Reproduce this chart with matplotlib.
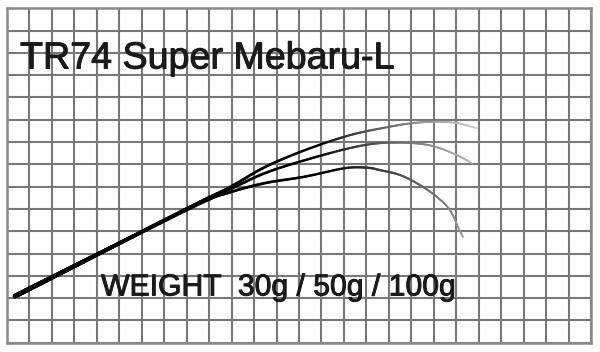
import numpy as np
import matplotlib
matplotlib.use("Agg")
import matplotlib.pyplot as plt
from matplotlib.collections import LineCollection
import matplotlib.patheffects as pe

# Grid size (cells)
n_cols = 26
n_rows = 15

title = "TR74 Super Mebaru-L"
weight_label = "WEIGHT  30g / 50g / 100g"

# Rod bend curves (grid-cell units), 30g / 50g / 100g
x_30g = [0.36, 4.14, 8.59, 9.93, 11.49, 13.27, 15.27, 17.05, 18.08, 19.06, 20.04, 20.93]
y_30g = [2.09, 4.02, 6.31, 6.98, 7.88, 8.64, 9.31, 9.69, 9.85, 9.91, 9.85, 9.62]

x_50g = [0.36, 4.14, 8.59, 9.93, 11.49, 13.27, 15.27, 16.61, 18.08, 19.06, 20.04, 20.70]
y_50g = [2.09, 4.02, 6.31, 6.89, 7.61, 8.19, 8.73, 8.95, 8.95, 8.79, 8.41, 8.05]

x_100g = [0.36, 4.14, 8.59, 9.93, 11.49, 13.27, 15.05, 16.03, 16.61, 17.50, 18.39, 19.15, 19.72, 20.08, 20.30]
y_100g = [2.09, 4.02, 6.24, 6.75, 7.16, 7.45, 7.83, 7.85, 7.74, 7.52, 7.07, 6.53, 5.95, 5.19, 4.74]

curves = [(x_30g, y_30g, 0.80), (x_50g, y_50g, 0.72), (x_100g, y_100g, 0.62)]


def smooth(xs, ys, n=16):
    """Catmull-Rom rendering through the given points."""
    P = np.column_stack([xs, ys]).astype(float)
    P = np.vstack([P[0] * 2 - P[1], P, P[-1] * 2 - P[-2]])
    out = []
    for i in range(1, len(P) - 2):
        p0, p1, p2, p3 = P[i - 1], P[i], P[i + 1], P[i + 2]
        t = np.linspace(0, 1, n, endpoint=False)[:, None]
        seg = 0.5 * ((2 * p1) + (-p0 + p2) * t + (2 * p0 - 5 * p1 + 4 * p2 - p3) * t ** 2
                     + (-p0 + 3 * p1 - 3 * p2 + p3) * t ** 3)
        out.append(seg)
    out.append(P[-2][None, :])
    return np.vstack(out)


fig = plt.figure(figsize=(6.0, 3.52), dpi=100)
W, H = 600, 352
left, right = 7 / W, 591 / W
bottom, top = (H - 342.7) / H, (H - 8.3) / H
ax = fig.add_axes([left, bottom, right - left, top - bottom])
ax.set_xlim(0, n_cols)
ax.set_ylim(0, n_rows)
ax.set_xticks(np.arange(n_cols + 1))
ax.set_yticks(np.arange(n_rows + 1))
ax.tick_params(length=0, labelbottom=False, labelleft=False)
ax.grid(True, color="#787878", linewidth=1.5)
ax.set_axisbelow(True)
for s in ax.spines.values():
    s.set_color("#8a8a8a")
    s.set_linewidth(1.8)

for xs, ys, tipgray in curves:
    pts2 = smooth(xs, ys)
    px, py = pts2[:, 0], pts2[:, 1]
    pts = pts2.reshape(-1, 1, 2)
    segs = np.concatenate([pts[:-1], pts[1:]], axis=1)
    d = np.concatenate([[0], np.cumsum(np.hypot(np.diff(px), np.diff(py)))])
    f = (d[:-1] + d[1:]) / 2 / d[-1]
    widths = np.where(f < 0.45, 3.4 - 3.0 * f, 2.05 - 1.5 * (f - 0.45))
    gray = np.clip((f - 0.68) / 0.32, 0, 1) ** 0.8 * tipgray
    colors = [(g, g, g, 1.0) for g in gray]
    lc = LineCollection(segs, linewidths=widths, colors=colors, capstyle="round", zorder=3)
    ax.add_collection(lc)

stroke = [pe.withStroke(linewidth=0.7, foreground="#1a1a1a")]
ax.text(0.58, 12.30, title, fontsize=27.1, family="Liberation Sans",
        color="#1a1a1a", va="baseline", ha="left", zorder=4, path_effects=stroke)
ax.text(4.19, 2.12, weight_label, fontsize=21.7, family="Liberation Sans",
        color="#1a1a1a", va="baseline", ha="left", zorder=4, path_effects=stroke)

fig.savefig("out.png", dpi=100, facecolor="white")
